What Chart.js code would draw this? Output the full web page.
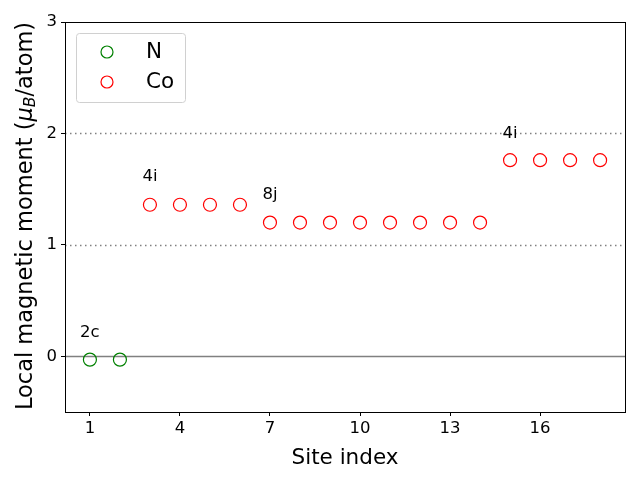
<!DOCTYPE html>
<html>
<head>
<meta charset="utf-8">
<script src="https://cdn.jsdelivr.net/npm/chart.js@4"></script>
<style>
  body { margin: 0; background: #fff; }
  canvas { display: block; }
</style>
</head>
<body>
<canvas id="chart" width="640" height="480"></canvas>
<script>
// site index and moments
let nSites = [1, 2];
let nMoments = [-0.03, -0.03];
let coSites = [3, 4, 5, 6, 7, 8, 9, 10, 11, 12, 13, 14, 15, 16, 17, 18];
let coMoments = [1.36, 1.36, 1.36, 1.36, 1.2, 1.2, 1.2, 1.2, 1.2, 1.2, 1.2, 1.2, 1.76, 1.76, 1.76, 1.76];
let xTicks = [1, 4, 7, 10, 13, 16];
let yTicks = [0, 1, 2, 3];
let siteLabels = ['2c', '4i', '8j', '4i'];
let siteLabelX = [1, 3, 7, 15];
let siteLabelY = [0.21, 1.61, 1.45, 2.0];
let refLines = [0, 1, 2];

function toPoints(xs, ys) {
  return xs.map(function(x, i) { return { x: x, y: ys[i] }; });
}

let fontFamily = '"DejaVu Sans", sans-serif';

let extrasPlugin = {
  id: 'extras',
  beforeDatasetsDraw: function(chart) {
    let ctx = chart.ctx;
    let area = chart.chartArea;
    let ys = chart.scales.y;
    ctx.save();
    refLines.forEach(function(v) {
      let py = Math.round(ys.getPixelForValue(v)) + 0.5;
      ctx.beginPath();
      ctx.strokeStyle = 'rgba(128,128,128,1)';
      ctx.lineWidth = 1.5;
      if (v === 0) ctx.setLineDash([]); else ctx.setLineDash([1.5, 3.5]);
      ctx.moveTo(area.left, py);
      ctx.lineTo(area.right, py);
      ctx.stroke();
    });
    ctx.restore();
  },
  afterDraw: function(chart) {
    let ctx = chart.ctx;
    let area = chart.chartArea;
    let xs = chart.scales.x;
    let ys = chart.scales.y;
    ctx.save();
    // frame
    ctx.strokeStyle = '#000';
    ctx.lineWidth = 1;
    ctx.strokeRect(Math.round(area.left) + 0.5, Math.round(area.top) + 0.5,
      Math.round(area.right - area.left), Math.round(area.bottom - area.top));

    // site labels
    ctx.fillStyle = '#000';
    ctx.font = '16.5px ' + fontFamily;
    ctx.textAlign = 'center';
    ctx.textBaseline = 'middle';
    siteLabels.forEach(function(t, i) {
      ctx.fillText(t, xs.getPixelForValue(siteLabelX[i]), ys.getPixelForValue(siteLabelY[i]));
    });

    // y axis title with mu_B
    ctx.save();
    ctx.translate(26, (area.top + area.bottom) / 2 - 1);
    ctx.rotate(-Math.PI / 2);
    ctx.textBaseline = 'middle';
    ctx.textAlign = 'left';
    let parts = [
      { t: 'Local magnetic moment (', f: '22.5px ' + fontFamily, dy: 0 },
      { t: 'μ', f: 'italic 22.5px ' + fontFamily, dy: 0 },
      { t: 'B', f: 'italic 15.5px ' + fontFamily, dy: 5 },
      { t: '/atom)', f: '22.5px ' + fontFamily, dy: 0 }
    ];
    let total = 0;
    parts.forEach(function(p) { ctx.font = p.f; total += ctx.measureText(p.t).width; });
    let cx = -total / 2;
    parts.forEach(function(p) {
      ctx.font = p.f;
      ctx.fillText(p.t, cx, p.dy);
      cx += ctx.measureText(p.t).width;
    });
    ctx.restore();

    // legend
    let lx = 76, ly = 33, lw = 109, lh = 69;
    ctx.beginPath();
    ctx.strokeStyle = '#d0d0d0';
    ctx.fillStyle = 'rgba(255,255,255,0.8)';
    ctx.lineWidth = 1;
    ctx.roundRect(lx + 0.5, ly + 0.5, lw, lh, 3);
    ctx.fill();
    ctx.stroke();
    chart.data.datasets.forEach(function(ds, i) {
      let cy = 52 + i * 30;
      ctx.beginPath();
      ctx.strokeStyle = ds.borderColor;
      ctx.lineWidth = 1.2;
      ctx.arc(107, cy, 6, 0, Math.PI * 2);
      ctx.stroke();
      ctx.fillStyle = '#000';
      ctx.font = '21.5px ' + fontFamily;
      ctx.textAlign = 'left';
      ctx.textBaseline = 'middle';
      ctx.fillText(ds.label, 146, cy);
    });
    ctx.restore();
  }
};

new Chart(document.getElementById('chart').getContext('2d'), {
  type: 'scatter',
  data: {
    datasets: [
      {
        label: 'N',
        data: toPoints(nSites, nMoments),
        borderColor: 'green',
        backgroundColor: 'rgba(0,0,0,0)',
        borderWidth: 1.2,
        pointRadius: 6.5,
        pointHoverRadius: 6.5
      },
      {
        label: 'Co',
        data: toPoints(coSites, coMoments),
        borderColor: 'red',
        backgroundColor: 'rgba(0,0,0,0)',
        borderWidth: 1.2,
        pointRadius: 6.5,
        pointHoverRadius: 6.5
      }
    ]
  },
  options: {
    responsive: false,
    animation: false,
    layout: { padding: { top: 22, right: 15, left: 0, bottom: 0 } },
    plugins: {
      legend: { display: false },
      tooltip: { enabled: false }
    },
    scales: {
      x: {
        type: 'linear',
        min: 0.17,
        max: 18.83,
        afterBuildTicks: function(scale) {
          scale.ticks = xTicks.map(function(v) { return { value: v }; });
        },
        afterFit: function(scale) { scale.height = 68; },
        grid: { drawOnChartArea: false, drawTicks: true, tickLength: 4, color: '#000' },
        border: { display: true, color: '#000' },
        ticks: { color: '#000', font: { size: 16.5, family: fontFamily }, padding: 3 },
        title: {
          display: true,
          text: 'Site index',
          color: '#000',
          font: { size: 21.5, family: fontFamily },
          padding: { top: 2, bottom: 9 }
        }
      },
      y: {
        type: 'linear',
        min: -0.5,
        max: 3,
        afterBuildTicks: function(scale) {
          scale.ticks = yTicks.map(function(v) { return { value: v }; });
        },
        afterFit: function(scale) { scale.width = 65; },
        grid: { drawOnChartArea: false, drawTicks: true, tickLength: 4, color: '#000' },
        border: { display: true, color: '#000' },
        ticks: { color: '#000', font: { size: 16.5, family: fontFamily }, padding: 4 }
      }
    }
  },
  plugins: [extrasPlugin]
});
</script>
</body>
</html>
